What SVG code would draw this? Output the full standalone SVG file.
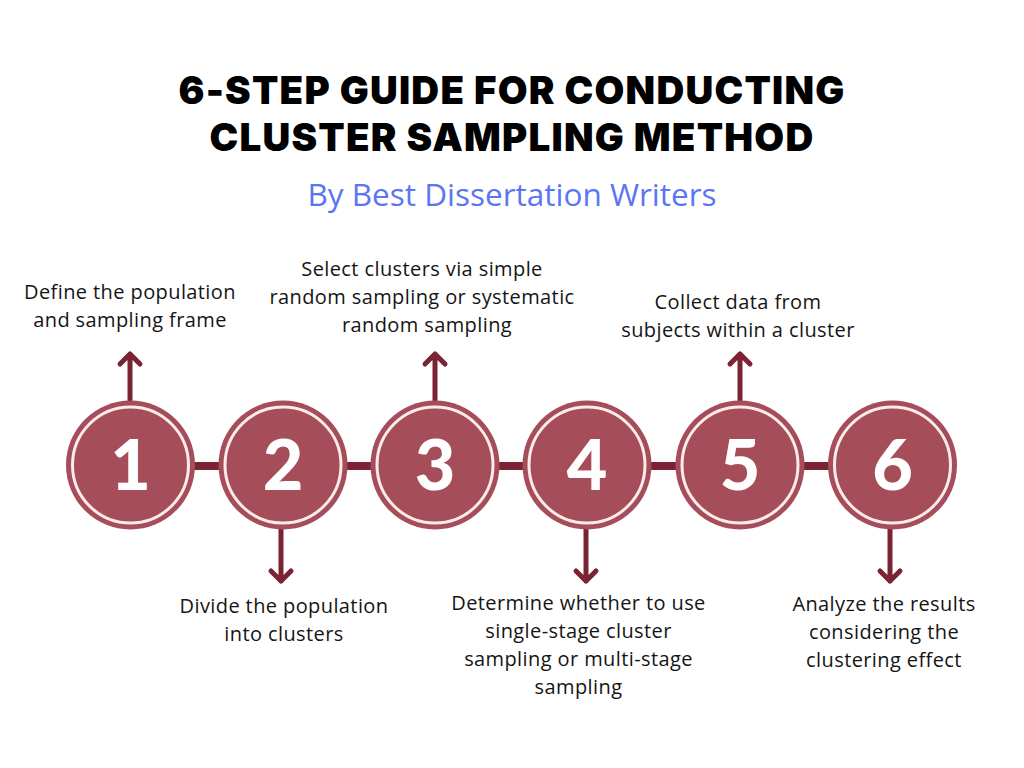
<svg xmlns="http://www.w3.org/2000/svg" width="1024" height="768" viewBox="0 0 1024 768">
<style>
.title{font-family:"Inter","Lato","Liberation Sans",sans-serif;font-weight:900;font-size:38.5px;letter-spacing:1.2px;fill:#000;text-anchor:middle}
.sub{font-family:"Open Sans","Liberation Sans",sans-serif;font-size:31.5px;fill:#5B76F2;text-anchor:middle}
.lbl{font-family:"Open Sans","Liberation Sans",sans-serif;font-size:20px;letter-spacing:0.4px;fill:#151515;text-anchor:middle}
.num{font-family:"Lato","Roboto","Liberation Sans",sans-serif;font-weight:900;font-size:70px;fill:#fff;text-anchor:middle}
.disc{fill:#A64D5A}
.ring{fill:none;stroke:#FCEBEB;stroke-width:3}
.bar{stroke:#7B2333;stroke-width:8;fill:none}
.arr{stroke:#7B2333;stroke-width:5;fill:none;stroke-linecap:round;stroke-linejoin:round}
</style>
<rect width="1024" height="768" fill="#fff"/>
<text class="title" x="512" y="104">6-STEP GUIDE FOR CONDUCTING</text>
<text class="title" x="512" y="151">CLUSTER SAMPLING METHOD</text>
<text class="sub" x="512" y="206">By Best Dissertation Writers</text>
<g id="connectors">
<line class="bar" x1="190" y1="466" x2="835" y2="466"/>
<path class="arr" d="M130,400 V354 M120,364 L130,354 L140,364"/>
<path class="arr" d="M435,400 V354 M425,364 L435,354 L445,364"/>
<path class="arr" d="M740,400 V354 M730,364 L740,354 L750,364"/>
<path class="arr" d="M281,529 V581 M271,571 L281,581 L291,571"/>
<path class="arr" d="M586,529 V581 M576,571 L586,581 L596,571"/>
<path class="arr" d="M890,529 V581 M880,571 L890,581 L900,571"/>
</g>
<g id="step1"><circle class="disc" cx="130.5" cy="465" r="64.5"/><circle class="ring" cx="130.5" cy="465" r="58"/><text class="num" x="130.5" y="490">1</text>
<text class="lbl" x="130" y="299">Define the population</text><text class="lbl" x="130" y="327">and sampling frame</text></g>
<g id="step2"><circle class="disc" cx="283" cy="465" r="64.5"/><circle class="ring" cx="283" cy="465" r="58"/><text class="num" x="283" y="490">2</text>
<text class="lbl" x="284" y="613">Divide the population</text><text class="lbl" x="284" y="641">into clusters</text></g>
<g id="step3"><circle class="disc" cx="435" cy="465" r="64.5"/><circle class="ring" cx="435" cy="465" r="58"/><text class="num" x="435" y="490">3</text>
<text class="lbl" x="422" y="276">Select clusters via simple</text><text class="lbl" x="422" y="304">random sampling or systematic</text><text class="lbl" x="427" y="332">random sampling</text></g>
<g id="step4"><circle class="disc" cx="587" cy="465" r="64.5"/><circle class="ring" cx="587" cy="465" r="58"/><text class="num" x="587" y="490">4</text>
<text class="lbl" x="578.5" y="610">Determine whether to use</text><text class="lbl" x="578.5" y="638">single-stage cluster</text><text class="lbl" x="578.5" y="666">sampling or multi-stage</text><text class="lbl" x="578.5" y="694">sampling</text></g>
<g id="step5"><circle class="disc" cx="740" cy="465" r="64.5"/><circle class="ring" cx="740" cy="465" r="58"/><text class="num" x="740" y="490">5</text>
<text class="lbl" x="738" y="309">Collect data from</text><text class="lbl" x="738" y="337">subjects within a cluster</text></g>
<g id="step6"><circle class="disc" cx="892.5" cy="465" r="64.5"/><circle class="ring" cx="892.5" cy="465" r="58"/><text class="num" x="892.5" y="490">6</text>
<text class="lbl" x="884" y="611">Analyze the results</text><text class="lbl" x="884" y="639">considering the</text><text class="lbl" x="884" y="667">clustering effect</text></g>
</svg>
